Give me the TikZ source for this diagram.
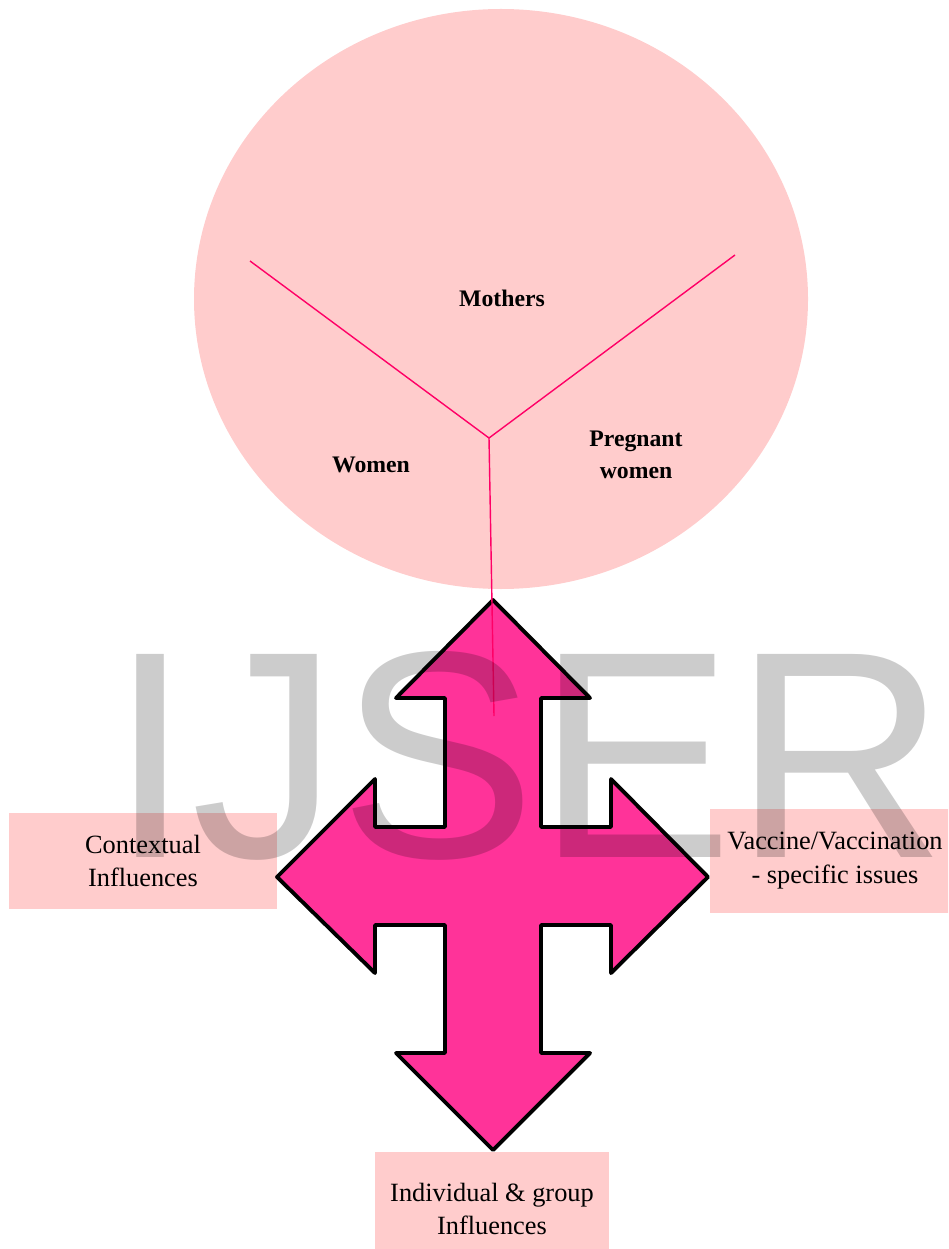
\documentclass[tikz,border=0pt]{standalone}
\usepackage{fontspec}
\setmainfont{Liberation Serif}
\newfontfamily\wmfont{Liberation Sans}
\usepackage{tikz}
\usetikzlibrary{calc}
\definecolor{pcol}{HTML}{FFCCCC}
\definecolor{acol}{HTML}{FF3399}
\definecolor{lcol}{HTML}{FF0066}

\tikzset{
  seg/.style={draw=lcol, line width=0.8pt},
  lab/.style={font=\fontsize{13.5}{17.7}\selectfont\bfseries, align=center, anchor=base, inner sep=0pt},
  infobox/.style={fill=pcol, font=\fontsize{15}{19.3}\selectfont, align=center, inner sep=0pt}
}

\begin{document}
\begin{tikzpicture}[scale=1]
\useasboundingbox (0,0) rectangle (18.960,-24.980);
\clip (0,0) rectangle (18.960,-24.980);
% groups
\fill[pcol] (10.020,-5.980) ellipse (6.140 and 5.800);
% influence boxes
\node[infobox, minimum width=5.360cm, minimum height=1.920cm] (ctx) at (2.860,-17.220) {Contextual\\Influences};
\node[infobox, minimum width=5.000cm, minimum height=2.080cm] (vac) at (16.700,-17.220) {Vaccine/Vaccination\\- specific issues};
\node[infobox, minimum width=4.680cm, minimum height=2.280cm] (ind) at (9.840,-24.180) {Individual \& group\\Influences};
% four-way arrow
\draw[fill=acol, line width=2.2pt, line join=round] (9.860,-12.000) -- (11.800,-13.960) -- (10.820,-13.960) -- (10.820,-16.540)
  -- (12.220,-16.540) -- (12.220,-15.580) -- (14.160,-17.540) -- (12.220,-19.460) -- (12.220,-18.500) -- (10.820,-18.500)
  -- (10.820,-21.060) -- (11.800,-21.060) -- (9.860,-23.000) -- (7.920,-21.060) -- (8.900,-21.060) -- (8.900,-18.500)
  -- (7.500,-18.500) -- (7.500,-19.460) -- (5.540,-17.540) -- (7.500,-15.580) -- (7.500,-16.540) -- (8.900,-16.540)
  -- (8.900,-13.960) -- (7.920,-13.960) -- cycle;
% dividing lines
\coordinate (hub) at (9.780,-8.760);
\coordinate (yl) at (5.000,-5.220);
\coordinate (yr) at (14.700,-5.100);
\coordinate (yb) at (9.880,-14.320);
\draw[seg] (yl) -- (hub);
\draw[seg] (yr) -- (hub);
\draw[seg] (hub) -- (yb);
\node[lab] (mothers) at (10.040,-6.134) {Mothers};
\node[lab] (women) at (7.420,-9.440) {Women};
\node[lab] (pregnant) at (12.720,-9.560) {Pregnant\\women};
% watermark
\node[anchor=base west, inner sep=0pt, text=black, text opacity=0.2, font=\wmfont\fontsize{168}{168}\selectfont] (mark) at (2.190,-17.140) {IJSER};
\end{tikzpicture}
\end{document}
